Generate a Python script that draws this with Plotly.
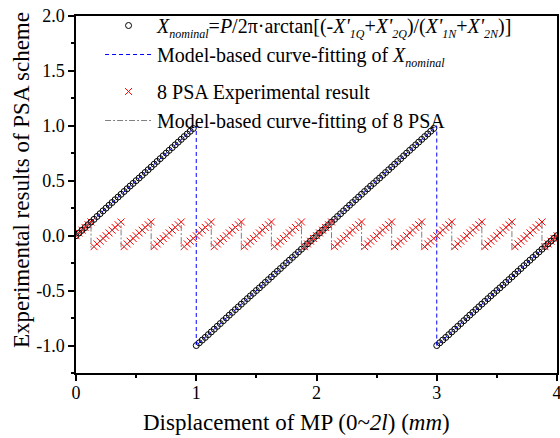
import plotly.graph_objects as go

# sample positions (mm)
x_pos = [
    0.000, 0.025, 0.050, 0.075, 0.100, 0.125, 0.150, 0.175, 0.200, 0.225,
    0.250, 0.275, 0.300, 0.325, 0.350, 0.375, 0.400, 0.425, 0.450, 0.475,
    0.500, 0.525, 0.550, 0.575, 0.600, 0.625, 0.650, 0.675, 0.700, 0.725,
    0.750, 0.775, 0.800, 0.825, 0.850, 0.875, 0.900, 0.925, 0.950, 0.975,
    1.000, 1.025, 1.050, 1.075, 1.100, 1.125, 1.150, 1.175, 1.200, 1.225,
    1.250, 1.275, 1.300, 1.325, 1.350, 1.375, 1.400, 1.425, 1.450, 1.475,
    1.500, 1.525, 1.550, 1.575, 1.600, 1.625, 1.650, 1.675, 1.700, 1.725,
    1.750, 1.775, 1.800, 1.825, 1.850, 1.875, 1.900, 1.925, 1.950, 1.975,
    2.000, 2.025, 2.050, 2.075, 2.100, 2.125, 2.150, 2.175, 2.200, 2.225,
    2.250, 2.275, 2.300, 2.325, 2.350, 2.375, 2.400, 2.425, 2.450, 2.475,
    2.500, 2.525, 2.550, 2.575, 2.600, 2.625, 2.650, 2.675, 2.700, 2.725,
    2.750, 2.775, 2.800, 2.825, 2.850, 2.875, 2.900, 2.925, 2.950, 2.975,
    3.000, 3.025, 3.050, 3.075, 3.100, 3.125, 3.150, 3.175, 3.200, 3.225,
    3.250, 3.275, 3.300, 3.325, 3.350, 3.375, 3.400, 3.425, 3.450, 3.475,
    3.500, 3.525, 3.550, 3.575, 3.600, 3.625, 3.650, 3.675, 3.700, 3.725,
    3.750, 3.775, 3.800, 3.825, 3.850, 3.875, 3.900, 3.925, 3.950, 3.975,
    4.000,
]

# X_nominal measured values
x_nominal = [
    0.000, 0.024, 0.049, 0.074, 0.099, 0.124, 0.149, 0.175, 0.200, 0.226,
    0.251, 0.277, 0.302, 0.327, 0.352, 0.377, 0.402, 0.427, 0.452, 0.476,
    0.501, 0.525, 0.550, 0.575, 0.600, 0.625, 0.651, 0.676, 0.701, 0.727,
    0.752, 0.777, 0.802, 0.827, 0.852, 0.877, 0.902, 0.926, 0.951, 0.976,
    -1.000, -0.975, -0.950, -0.926, -0.901, -0.876, -0.851, -0.825, -0.800, -0.774,
    -0.749, -0.723, -0.698, -0.673, -0.648, -0.623, -0.598, -0.573, -0.548, -0.524,
    -0.499, -0.475, -0.450, -0.425, -0.400, -0.375, -0.349, -0.324, -0.299, -0.273,
    -0.248, -0.223, -0.198, -0.173, -0.148, -0.123, -0.098, -0.074, -0.049, -0.024,
    0.000, 0.024, 0.049, 0.074, 0.099, 0.124, 0.149, 0.175, 0.200, 0.226,
    0.251, 0.277, 0.302, 0.327, 0.352, 0.377, 0.402, 0.427, 0.452, 0.476,
    0.501, 0.525, 0.550, 0.575, 0.600, 0.625, 0.651, 0.676, 0.701, 0.727,
    0.752, 0.777, 0.802, 0.827, 0.852, 0.877, 0.902, 0.926, 0.951, 0.976,
    -1.000, -0.975, -0.950, -0.926, -0.901, -0.876, -0.851, -0.825, -0.800, -0.774,
    -0.749, -0.723, -0.698, -0.673, -0.648, -0.623, -0.598, -0.573, -0.548, -0.524,
    -0.499, -0.475, -0.450, -0.425, -0.400, -0.375, -0.349, -0.324, -0.299, -0.273,
    -0.248, -0.223, -0.198, -0.173, -0.148, -0.123, -0.098, -0.074, -0.049, -0.024,
    0.000,
]

# 8 PSA experimental result
psa8 = [
    0.000, 0.025, 0.050, 0.075, 0.100, 0.125,
    -0.100, -0.075, -0.050, -0.025, 0.000, 0.025, 0.050, 0.075, 0.100, 0.125,
    -0.100, -0.075, -0.050, -0.025, 0.000, 0.025, 0.050, 0.075, 0.100, 0.125,
    -0.100, -0.075, -0.050, -0.025, 0.000, 0.025, 0.050, 0.075, 0.100, 0.125,
    -0.100, -0.075, -0.050, -0.025, 0.000, 0.025, 0.050, 0.075, 0.100, 0.125,
    -0.100, -0.075, -0.050, -0.025, 0.000, 0.025, 0.050, 0.075, 0.100, 0.125,
    -0.100, -0.075, -0.050, -0.025, 0.000, 0.025, 0.050, 0.075, 0.100, 0.125,
    -0.100, -0.075, -0.050, -0.025, 0.000, 0.025, 0.050, 0.075, 0.100, 0.125,
    -0.100, -0.075, -0.050, -0.025, 0.000, 0.025, 0.050, 0.075, 0.100, 0.125,
    -0.100, -0.075, -0.050, -0.025, 0.000, 0.025, 0.050, 0.075, 0.100, 0.125,
    -0.100, -0.075, -0.050, -0.025, 0.000, 0.025, 0.050, 0.075, 0.100, 0.125,
    -0.100, -0.075, -0.050, -0.025, 0.000, 0.025, 0.050, 0.075, 0.100, 0.125,
    -0.100, -0.075, -0.050, -0.025, 0.000, 0.025, 0.050, 0.075, 0.100, 0.125,
    -0.100, -0.075, -0.050, -0.025, 0.000, 0.025, 0.050, 0.075, 0.100, 0.125,
    -0.100, -0.075, -0.050, -0.025, 0.000, 0.025, 0.050, 0.075, 0.100, 0.125,
    -0.100, -0.075, -0.050, -0.025, 0.000, 0.025, 0.050, 0.075, 0.100, 0.125,
    -0.100, -0.075, -0.050, -0.025, 0.000,
]

# Model-based curve-fitting of X_nominal (vertices)
fit_nom_x = [0.0, 1.0, 1.0, 3.0, 3.0, 4.0]
fit_nom_y = [0.0, 1.0, -1.0, 1.0, -1.0, 0.0]

# Model-based curve-fitting of 8 PSA (vertices)
fit_psa_x = [0.0,
             0.125, 0.125, 0.375, 0.375, 0.625, 0.625, 0.875, 0.875,
             1.125, 1.125, 1.375, 1.375, 1.625, 1.625, 1.875, 1.875,
             2.125, 2.125, 2.375, 2.375, 2.625, 2.625, 2.875, 2.875,
             3.125, 3.125, 3.375, 3.375, 3.625, 3.625, 3.875, 3.875,
             4.0]
fit_psa_y = [0.0,
             0.125, -0.125, 0.125, -0.125, 0.125, -0.125, 0.125, -0.125,
             0.125, -0.125, 0.125, -0.125, 0.125, -0.125, 0.125, -0.125,
             0.125, -0.125, 0.125, -0.125, 0.125, -0.125, 0.125, -0.125,
             0.125, -0.125, 0.125, -0.125, 0.125, -0.125, 0.125, -0.125,
             0.0]

x_ticks = [0, 1, 2, 3, 4]
y_ticks = [-1.0, -0.5, 0.0, 0.5, 1.0, 1.5, 2.0]
y_tick_labels = ["-1.0", "-0.5", "0.0", "0.5", "1.0", "1.5", "2.0"]

FONT = "Liberation Serif"


def sub(t):
    return '<sub><span style="font-size:12px"><i>' + t + '</i></span></sub>'


fig = go.Figure()
fig.add_trace(go.Scatter(
    x=x_pos, y=x_nominal, mode="markers", legendgroup="g1",
    name=("<i>X</i>" + sub("nominal") + "=<i>P</i>/2π·arctan[(-<i>X'</i>" + sub("1Q")
          + "+<i>X'</i>" + sub("2Q") + ")/(<i>X'</i>" + sub("1N") + "+<i>X'</i>" + sub("2N") + ")]"),
    marker=dict(symbol="circle-open", size=6, color="black", line=dict(width=1, color="black")),
))
fig.add_trace(go.Scatter(
    x=fit_nom_x, y=fit_nom_y, mode="lines", legendgroup="g1",
    name="Model-based curve-fitting of <i>X</i>" + sub("nominal"),
    line=dict(color="blue", width=1, dash="4px,3px"),
))
fig.add_trace(go.Scatter(
    x=x_pos, y=psa8, mode="markers", legendgroup="g2",
    name="8 PSA Experimental result",
    marker=dict(symbol="x-thin", size=7, color="red", line=dict(width=1, color="red")),
))
fig.add_trace(go.Scatter(
    x=fit_psa_x, y=fit_psa_y, mode="lines", legendgroup="g2",
    name="Model-based curve-fitting of 8 PSA",
    line=dict(color="gray", width=1, dash="6px,2px,2px,2px"),
))

axis_common = dict(
    showline=True, linecolor="black", linewidth=1.5, mirror=True,
    ticks="outside", ticklen=6, tickwidth=1.5, tickcolor="black",
    showgrid=False, zeroline=False, automargin=False,
    ticklabeloverflow="allow",
    tickfont=dict(family=FONT, size=18, color="black"),
)

fig.update_xaxes(
    range=[0, 4], tickvals=x_ticks,
    minor=dict(ticks="outside", ticklen=3, tickwidth=1.5, tickcolor="black", dtick=0.5, tick0=0),
    ticklabelstandoff=-3,
    **axis_common,
)
fig.update_yaxes(
    range=[-1.25, 2.0], tickvals=y_ticks, ticktext=y_tick_labels,
    minor=dict(ticks="outside", ticklen=3, tickwidth=1.5, tickcolor="black", dtick=0.25, tick0=0),
    **axis_common,
)

fig.add_annotation(
    text="Displacement of MP (0~<i>2l</i>) (<i>mm</i>)",
    xref="paper", yref="paper", x=0.4574, y=-0.1373,
    xanchor="center", yanchor="middle", showarrow=False,
    font=dict(family=FONT, size=23, color="black"),
)
fig.add_annotation(
    text="Experimental results of PSA scheme",
    xref="paper", yref="paper", x=-0.1143, y=0.5406, textangle=-90,
    xanchor="center", yanchor="middle", showarrow=False,
    font=dict(family=FONT, size=23, color="black"),
)

fig.update_layout(
    width=560, height=438,
    margin=dict(l=76, r=3, t=16, b=65),
    paper_bgcolor="white", plot_bgcolor="white",
    font=dict(family=FONT, color="black"),
    showlegend=True,
    legend=dict(
        x=0.05, y=1.028, xanchor="left", yanchor="top",
        bgcolor="rgba(0,0,0,0)", borderwidth=0,
        font=dict(family=FONT, size=20, color="black"),
        itemwidth=47, tracegroupgap=8, groupclick="toggleitem",
    ),
)

fig.write_html("out.html", config={"displayModeBar": False},
               post_script="document.body.style.margin='0';")
